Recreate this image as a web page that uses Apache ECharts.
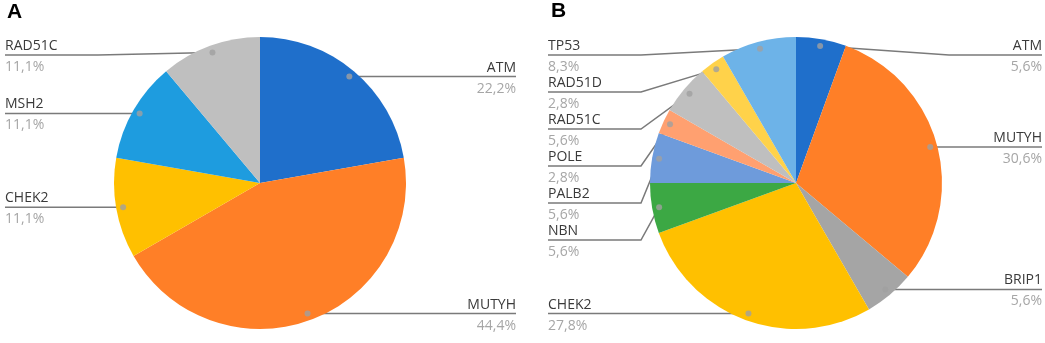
<!DOCTYPE html>
<html><head><meta charset="utf-8">
<script src="https://cdn.jsdelivr.net/npm/echarts@6/dist/echarts.min.js"></script>
<style>html,body{margin:0;padding:0;background:#fff}#c{width:1045px;height:343px}</style>
</head><body><div id="c"></div>
<script>
// ---- data ----
const panelTitles = ['A', 'B'];
const genesA = ['ATM', 'MUTYH', 'CHEK2', 'MSH2', 'RAD51C'];
const countsA = [2, 4, 1, 1, 1];
const colorsA = ['#1F6FCB', '#FF7F27', '#FFC000', '#1E9CDF', '#BFBFBF'];
const genesB = ['ATM', 'MUTYH', 'BRIP1', 'CHEK2', 'NBN', 'PALB2', 'POLE', 'RAD51C', 'RAD51D', 'TP53'];
const countsB = [2, 11, 2, 10, 2, 2, 1, 2, 1, 3];
const colorsB = ['#1F6FCB', '#FF7F27', '#A5A5A5', '#FFC000', '#3CA844', '#6E9BDB', '#FFA070', '#BFBFBF', '#FFD24A', '#6DB3E8'];

// ---- layout / style ----
const FONT = '"Open Sans", sans-serif';
const R = 146, DOT_FRAC = 0.952, MIN_LINE_Y = 55, PITCH = 37, LINE_OFF = 17, BOX_W = 93;
const panels = [
  { names: genesA, values: countsA, colors: colorsA, cx: 260, cy: 183, edgeL: 5, edgeR: 516, titleX: 7, titleY: 2 },
  { names: genesB, values: countsB, colors: colorsB, cx: 796, cy: 183, edgeL: 548, edgeR: 1042, titleX: 551, titleY: 1 }
];

function layoutPanel(p) {
  const total = p.values.reduce((a, b) => a + b, 0);
  let cum = 0;
  const items = p.values.map((v, i) => {
    const mid = cum + v / 2; cum += v;
    const th = mid / total * 2 * Math.PI;
    const dr = R * DOT_FRAC;
    return { i, mid, dx: p.cx + dr * Math.sin(th), dy: p.cy - dr * Math.cos(th), left: Math.sin(th) < 0 };
  });
  [true, false].forEach(side => {
    const list = items.filter(it => it.left === side).sort((a, b) => a.dy - b.dy);
    let prev = -Infinity;
    list.forEach(it => { it.lineY = Math.max(it.dy, MIN_LINE_Y, prev + PITCH); prev = it.lineY; });
  });
  return { total, items };
}
const layouts = panels.map(layoutPanel);

function pct(v, total) { return (v / total * 100).toFixed(1).replace('.', ',') + '%'; }

const series = [], polar = [], angleAxis = [], radiusAxis = [], title = [];
panels.forEach((p, k) => {
  const L = layouts[k];
  title.push({ text: panelTitles[k], left: p.titleX, top: p.titleY, padding: 0,
    textStyle: { fontFamily: '"Liberation Sans", Arial, sans-serif', fontWeight: 'bold', fontSize: 21, color: '#000' } });
  series.push({
    type: 'pie', center: [p.cx, p.cy], radius: R, startAngle: 90, clockwise: true,
    avoidLabelOverlap: false, silent: true, emphasis: { disabled: true },
    data: p.names.map((n, i) => ({ name: n, value: p.values[i], itemStyle: { color: p.colors[i] } })),
    label: {
      show: true, position: 'outside',
      formatter: (prm) => '{n|' + prm.name + '}\n{p|' + pct(p.values[prm.dataIndex], L.total) + '}',
      rich: {
        n: { fontFamily: FONT, fontSize: 14, color: '#3A3A3A', lineHeight: 16 },
        p: { fontFamily: FONT, fontSize: 14, color: '#A6A6A6', lineHeight: 21, padding: [5, 0, 0, 0] }
      }
    },
    labelLine: { show: true, length: 5, length2: 5, lineStyle: { color: '#7A7A7A', width: 1.5 } },
    labelLayout: (prm) => {
      const it = L.items[prm.dataIndex];
      const ex = it.left ? p.edgeL : p.edgeR;
      const bx = it.left ? ex + BOX_W : ex - BOX_W;
      return {
        x: ex, y: it.lineY - LINE_OFF, align: it.left ? 'left' : 'right', verticalAlign: 'top',
        labelLinePoints: [[it.dx, it.dy], [bx, it.lineY], [ex, it.lineY]]
      };
    },
    z: 2
  });
  polar.push({ center: [p.cx, p.cy], radius: R });
  angleAxis.push({ polarIndex: k, type: 'value', min: 0, max: L.total, startAngle: 90, clockwise: true,
    axisLine: { show: false }, axisTick: { show: false }, axisLabel: { show: false }, splitLine: { show: false } });
  radiusAxis.push({ polarIndex: k, type: 'value', min: 0, max: 1,
    axisLine: { show: false }, axisTick: { show: false }, axisLabel: { show: false }, splitLine: { show: false } });
  series.push({
    type: 'scatter', coordinateSystem: 'polar', polarIndex: k, symbol: 'circle', symbolSize: 6,
    silent: true, z: 5, itemStyle: { color: '#A0A0A0' },
    data: L.items.map(it => [DOT_FRAC, it.mid])
  });
});

const chart = echarts.init(document.getElementById('c'), null, { renderer: 'canvas' });
chart.setOption({ animation: false, backgroundColor: '#fff', title, polar, angleAxis, radiusAxis, series });
</script></body></html>
